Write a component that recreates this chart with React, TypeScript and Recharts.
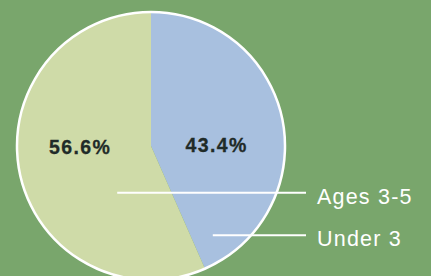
import React from "react";
import { PieChart, Pie, Cell } from "recharts";

const categories = ["Under 3", "Ages 3-5"];
const shares = [43.4, 56.6];
const colors = ["#a8c0df", "#cfdba8"];
// leader-line start given in polar terms (degrees, fraction of radius)
const leaderAngles = [-55.3, -125.9];
const leaderRadiusFrac = [0.81, 0.43];
const pctRadiusFrac = [0.5, 0.54];

const data = categories.map((name, i) => ({ name, value: shares[i] }));
const outline = [{ name: "outline", value: 1 }];

const RAD = Math.PI / 180;
const W = 431;
const H = 276;
const CX = 151;
const CY = 146;
const R = 134;

const renderLabel = (props: any) => {
  const { cx, cy, midAngle, outerRadius, value, index } = props;
  const px = cx + outerRadius * pctRadiusFrac[index] * Math.cos(-midAngle * RAD);
  const a = leaderAngles[index] * RAD;
  const lr = outerRadius * leaderRadiusFrac[index];
  const sx = cx + lr * Math.cos(a);
  const sy = cy - lr * Math.sin(a);
  const ex = cx + outerRadius + 21;
  return (
    <g key={`lab-${index}`}>
      <text
        x={px}
        y={cy + (index === 0 ? 6 : 8)}
        textAnchor="middle"
        fill="#1f2b28"
        fontFamily="Liberation Sans, Arial, sans-serif"
        fontWeight="bold"
        fontSize={19.5}
        letterSpacing={1.4}
        stroke="#1f2b28"
        strokeWidth={0.3}
      >
        {`${Number(value).toFixed(1)}%`}
      </text>
      <line x1={sx} y1={sy} x2={ex} y2={sy} stroke="#ffffff" strokeWidth={2} />
      <text
        x={ex + 11}
        y={sy + 11}
        fill="#ffffff"
        fontFamily="Liberation Sans, Arial, sans-serif"
        fontSize={21.5}
        letterSpacing={1.2}
      >
        {categories[index]}
      </text>
    </g>
  );
};

export default function App() {
  return (
    <div
      style={{
        position: "absolute",
        left: 0,
        top: 0,
        width: W,
        height: H,
        background: "#79a66c",
        overflow: "hidden",
      }}
    >
      <PieChart width={W} height={H} margin={{ top: 0, right: 0, bottom: 0, left: 0 }}>
        <Pie
          data={data}
          dataKey="value"
          nameKey="name"
          cx={CX}
          cy={CY}
          outerRadius={R}
          startAngle={90}
          endAngle={-270}
          stroke="none"
          label={renderLabel}
          labelLine={false}
          isAnimationActive={false}
        >
          {data.map((d, i) => (
            <Cell key={d.name} fill={colors[i]} stroke="none" />
          ))}
        </Pie>
        <Pie
          data={outline}
          dataKey="value"
          cx={CX}
          cy={CY}
          innerRadius={R}
          outerRadius={R}
          startAngle={90}
          endAngle={-270}
          fill="none"
          stroke="#ffffff"
          strokeWidth={2.5}
          isAnimationActive={false}
        />
      </PieChart>
    </div>
  );
}
